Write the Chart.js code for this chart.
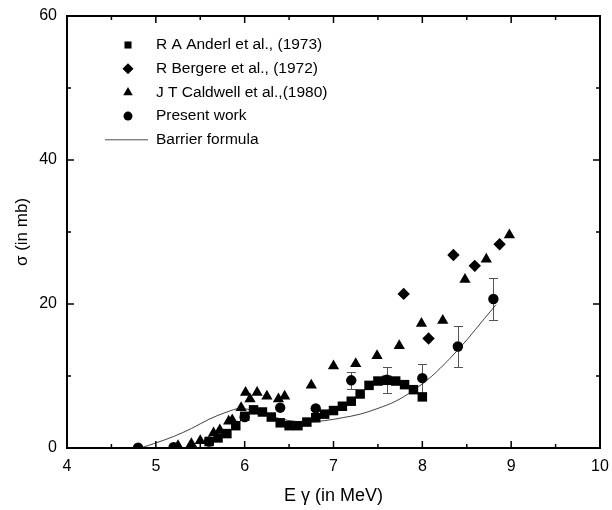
<!DOCTYPE html>
<html>
<head>
<meta charset="utf-8">
<script src="https://cdn.jsdelivr.net/npm/chart.js@4.4.1/dist/chart.umd.min.js"></script>
<style>
  html, body { margin: 0; padding: 0; background: #fff; }
</style>
</head>
<body>
<canvas id="c" width="612" height="510"></canvas>
<script>
/* ======================= DATA ======================= */
const anderlX = [5.6, 5.7, 5.8, 5.9, 6.0, 6.1, 6.2, 6.3, 6.4, 6.5, 6.6, 6.7, 6.8, 6.9, 7.0, 7.1, 7.2, 7.3, 7.4, 7.5, 7.6, 7.7, 7.8, 7.9, 8.0];
const anderlY = [0.9, 1.4, 2.0, 3.1, 4.4, 5.3, 5.0, 4.3, 3.5, 3.1, 3.1, 3.6, 4.2, 4.7, 5.2, 5.8, 6.5, 7.5, 8.7, 9.3, 9.4, 9.3, 8.8, 8.1, 7.1];

const bergereX = [7.79, 8.07, 8.35, 8.59, 8.87];
const bergereY = [21.4, 15.2, 26.8, 25.3, 28.3];

const caldwellX = [5.25, 5.40, 5.50, 5.65, 5.72, 5.82, 5.86, 5.96, 6.01, 6.06, 6.14, 6.25, 6.38, 6.45, 6.75, 7.00, 7.25, 7.49, 7.74, 7.99, 8.23, 8.48, 8.72, 8.98];
const caldwellY = [0.3, 0.6, 1.0, 2.1, 2.5, 3.7, 3.9, 5.6, 7.7, 6.8, 7.7, 7.2, 6.8, 7.2, 8.7, 11.4, 11.7, 12.8, 14.2, 17.3, 17.7, 23.4, 26.2, 29.6];

const presentX = [4.8, 5.2, 5.6, 6.0, 6.4, 6.8, 7.2, 7.6, 8.0, 8.4, 8.8];
const presentY = [0.05, 0.1, 0.9, 4.3, 5.6, 5.5, 9.4, 9.5, 9.7, 14.1, 20.7];
const presentErr = [0, 0, 0, 0, 0, 0, 1.2, 1.8, 2.0, 2.8, 2.9];

const barrierX = [4.83, 5.0, 5.2, 5.4, 5.6, 5.8, 5.95, 6.1, 6.3, 6.5, 6.7, 6.9, 7.1, 7.3, 7.5, 7.7, 7.9, 8.1, 8.3, 8.5, 8.7, 8.83];
const barrierY = [0.0, 0.7, 1.6, 2.7, 4.0, 5.0, 5.5, 5.2, 4.4, 3.8, 3.6, 3.8, 4.2, 4.7, 5.5, 6.5, 8.0, 9.9, 12.3, 15.0, 18.0, 19.9];

const legendLabels = ['R A Anderl et al., (1973)', 'R Bergere et al., (1972)', 'J T Caldwell et al.,(1980)', 'Present work', 'Barrier formula'];
const xTitle = 'E \u03b3 (in MeV)';
const yTitle = '\u03c3 (in mb)';

const FONT = "'Liberation Sans', Arial, sans-serif";
const pts = (xs, ys) => xs.map((x, i) => ({ x, y: ys[i] }));

/* ======================= PLUGINS ======================= */
// inward ticks on all four sides + box frame
const frameTicks = {
  id: 'frameTicks',
  afterDatasetsDraw(chart) {
    const { ctx, chartArea: a, scales: { x, y } } = chart;
    ctx.save();
    ctx.strokeStyle = '#000';
    ctx.lineWidth = 1.5;
    ctx.beginPath();
    for (let v = 4.5; v < 10; v += 0.5) {
      const len = Number.isInteger(v) ? 7 : 4;
      const px = x.getPixelForValue(v);
      ctx.moveTo(px, a.bottom); ctx.lineTo(px, a.bottom - len);
      ctx.moveTo(px, a.top); ctx.lineTo(px, a.top + len);
    }
    for (let v = 10; v < 60; v += 10) {
      const len = v % 20 === 0 ? 7 : 4;
      const py = y.getPixelForValue(v);
      ctx.moveTo(a.left, py); ctx.lineTo(a.left + len, py);
      ctx.moveTo(a.right, py); ctx.lineTo(a.right - len, py);
    }
    ctx.stroke();
    ctx.lineWidth = 2;
    ctx.strokeRect(a.left, a.top, a.right - a.left, a.bottom - a.top);
    ctx.restore();
  }
};

// error bars for the present work
const errorBars = {
  id: 'errorBars',
  beforeDatasetsDraw(chart) {
    const { ctx, scales: { x, y } } = chart;
    ctx.save();
    ctx.strokeStyle = '#555';
    ctx.lineWidth = 1;
    ctx.beginPath();
    presentX.forEach((xv, i) => {
      if (!presentErr[i]) return;
      const px = Math.round(x.getPixelForValue(xv)) + 0.5;
      const top = Math.round(y.getPixelForValue(presentY[i] + presentErr[i])) + 0.5;
      const bot = Math.round(y.getPixelForValue(presentY[i] - presentErr[i])) + 0.5;
      ctx.moveTo(px, top); ctx.lineTo(px, bot);
      ctx.moveTo(px - 4.5, top); ctx.lineTo(px + 4.5, top);
      ctx.moveTo(px - 4.5, bot); ctx.lineTo(px + 4.5, bot);
    });
    ctx.stroke();
    ctx.restore();
  }
};

// legend inside the plot, top-left
const innerLegend = {
  id: 'innerLegend',
  afterDraw(chart) {
    const { ctx } = chart;
    const styles = ['rect', 'rectRot', 'triangle', 'circle', null];
    const radii = [5, 5.5, 5.5, 4.5, 0];
    ctx.save();
    ctx.font = '15.5px ' + FONT;
    ctx.textBaseline = 'middle';
    ctx.fillStyle = '#000';
    ctx.strokeStyle = '#000';
    legendLabels.forEach((label, i) => {
      const yy = 45 + i * 23.7;
      if (styles[i]) {
        Chart.helpers.drawPoint(ctx, { pointStyle: styles[i], radius: radii[i], rotation: 0, borderWidth: 0 }, 128, yy);
      } else {
        ctx.lineWidth = 0.8;
        ctx.strokeStyle = '#222';
        ctx.beginPath(); ctx.moveTo(105, yy); ctx.lineTo(148, yy); ctx.stroke();
      }
      ctx.fillText(label, 156, yy);
    });
    ctx.restore();
  }
};

/* ======================= CHART ======================= */
const marker = (style, r) => ({
  pointStyle: style, pointRadius: r, pointHoverRadius: r,
  backgroundColor: '#000', borderColor: '#000', borderWidth: 0, showLine: false
});

new Chart(document.getElementById('c'), {
  type: 'scatter',
  data: {
    datasets: [
      { label: legendLabels[4], data: pts(barrierX, barrierY), showLine: true, borderColor: '#111', borderWidth: 0.8,
        pointRadius: 0, cubicInterpolationMode: 'monotone', fill: false },
      { label: legendLabels[0], data: pts(anderlX, anderlY), ...marker('rect', 6.7) },
      { label: legendLabels[1], data: pts(bergereX, bergereY), ...marker('rectRot', 6.2) },
      { label: legendLabels[2], data: pts(caldwellX, caldwellY), ...marker('triangle', 6.5) },
      { label: legendLabels[3], data: pts(presentX, presentY), ...marker('circle', 5.2) }
    ]
  },
  options: {
    responsive: false,
    animation: false,
    devicePixelRatio: 1,
    layout: { padding: { left: 0, right: 12, top: 16, bottom: 0 } },
    plugins: { legend: { display: false }, tooltip: { enabled: false } },
    scales: {
      x: {
        type: 'linear', min: 4, max: 10,
        grid: { display: false, drawTicks: false },
        border: { display: false },
        ticks: { stepSize: 1, padding: 9, color: '#000', font: { family: FONT, size: 16 } },
        title: { display: true, text: xTitle, color: '#000', font: { family: FONT, size: 18 }, padding: { top: 4, bottom: 3 } },
        afterFit: s => { s.height = 62; s.paddingLeft = 0; s.paddingRight = 0; }
      },
      y: {
        type: 'linear', min: 0, max: 60,
        grid: { display: false, drawTicks: false },
        border: { display: false },
        ticks: { stepSize: 20, padding: 10, color: '#000', font: { family: FONT, size: 16 } },
        title: { display: true, text: yTitle, color: '#000', font: { family: FONT, size: 17 }, padding: { top: 12, bottom: 4 } },
        afterFit: s => { s.width = 67; s.paddingTop = 0; s.paddingBottom = 0; }
      }
    }
  },
  plugins: [errorBars, frameTicks, innerLegend]
});
</script>
</body>
</html>
